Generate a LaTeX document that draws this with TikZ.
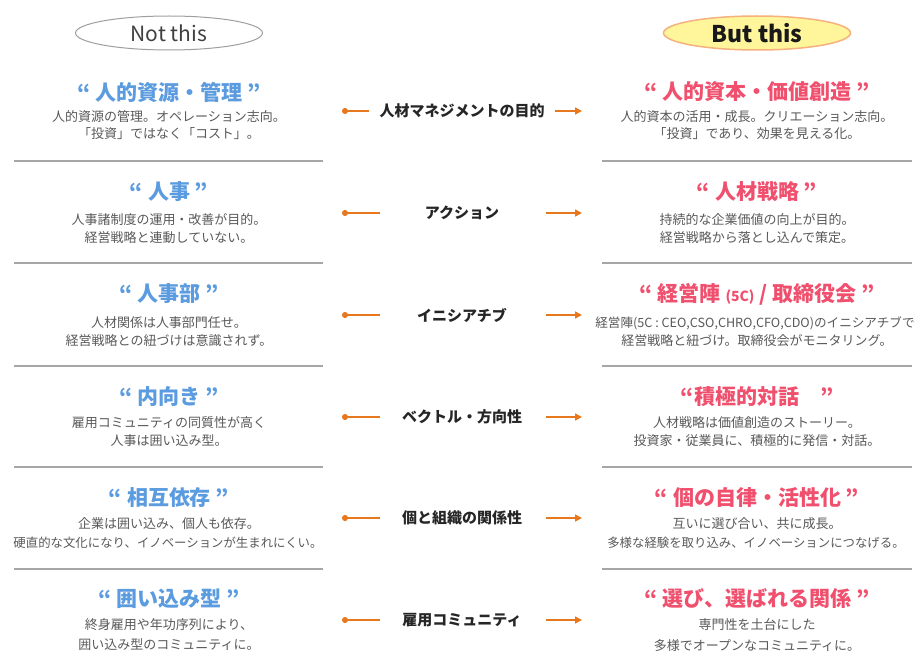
\documentclass[tikz,border=0pt]{standalone}
\usepackage{fontspec}
\setmainfont{Noto Sans CJK JP}
\usetikzlibrary{shapes.geometric,arrows.meta}
\definecolor{ttlblue}{HTML}{5B9BDF}
\definecolor{ttlpink}{HTML}{F0506E}
\definecolor{bodygray}{HTML}{595959}
\definecolor{sepgray}{HTML}{A6A6A6}
\definecolor{arrorange}{HTML}{E8781E}
\definecolor{butfill}{HTML}{FFF59A}
\definecolor{butline}{HTML}{F5B27E}
\begin{document}
\begin{tikzpicture}[x=1pt,y=-1pt,
  lt/.style={font=\fontsize{21}{23}\selectfont\bfseries, text=ttlblue, inner sep=0pt},
  rt/.style={font=\fontsize{21}{23}\selectfont\bfseries, text=ttlpink, inner sep=0pt},
  body/.style={font=\fontsize{13}{15}\selectfont, text=bodygray, inner sep=0pt},
  narrow/.style={font=\fontsize{12.4}{14}\selectfont},
  mid/.style={font=\fontsize{15}{17}\selectfont\bfseries, text=black!85, inner sep=0pt},
  sep/.style={draw=sepgray, line width=1.4pt},
  lconn/.style={draw=arrorange, line width=1.5pt, {Circle[length=6pt]}-},
  rconn/.style={draw=arrorange, line width=1.5pt, -{Triangle[length=7pt,width=7pt]}},
  hdr/.style={ellipse, minimum width=187pt, minimum height=34pt, inner sep=0pt}
]
\useasboundingbox (0,0) rectangle (922,666);
\fill[white] (0,0) rectangle (922,666);

% headers
\node[hdr, draw=gray!75, line width=1pt, text=black!75, font=\fontsize{21}{23}\selectfont] (nothdr) at (169,33) {Not this};
\node[hdr, draw=butline, fill=butfill, line width=1.5pt, text=black!90, font=\fontsize{23}{25}\selectfont\bfseries] (buthdr) at (757,33) {But this};

% separators
\foreach \y [count=\i] in {161,263,366,467,569}{
  \coordinate (lsa\i) at (14,\y); \coordinate (lsb\i) at (323,\y);
  \coordinate (rsa\i) at (602,\y); \coordinate (rsb\i) at (912,\y);
  \draw[sep] (lsa\i) -- (lsb\i);
  \draw[sep] (rsa\i) -- (rsb\i);
}

% left column
\node[lt] (lt1) at (169,92) {“ 人的資源・管理 ”};
\node[body] (lb1a) at (169,117) {人的資源の管理。オペレーション志向。};
\node[body] (lb1b) at (169,134) {「投資」ではなく「コスト」。};

\node[lt] (lt2) at (169,192) {“ 人事 ”};
\node[body] (lb2a) at (169,220) {人事諸制度の運用・改善が目的。};
\node[body] (lb2b) at (169,238) {経営戦略と連動していない。};

\node[lt] (lt3) at (169,294) {“ 人事部 ”};
\node[body] (lb3a) at (169,323) {人材関係は人事部門任せ。};
\node[body] (lb3b) at (169,341) {経営戦略との紐づけは意識されず。};

\node[lt] (lt4) at (169,397) {“ 内向き ”};
\node[body] (lb4a) at (169,423) {雇用コミュニティの同質性が高く};
\node[body] (lb4b) at (169,441) {人事は囲い込み型。};

\node[lt] (lt5) at (169,498) {“ 相互依存 ”};
\node[body] (lb5a) at (169,524) {企業は囲い込み、個人も依存。};
\node[body, narrow] (lb5b) at (168,543) {硬直的な文化になり、イノベーションが生まれにくい。};

\node[lt] (lt6) at (169,599) {“ 囲い込み型 ”};
\node[body] (lb6a) at (169,625) {終身雇用や年功序列により、};
\node[body] (lb6b) at (169,645) {囲い込み型のコミュニティに。};

% right column
\node[rt] (rt1) at (757,92) {“ 人的資本・価値創造 ”};
\node[body] (rb1a) at (757,117) {人的資本の活用・成長。クリエーション志向。};
\node[body] (rb1b) at (757,134) {「投資」であり、効果を見える化。};

\node[rt] (rt2) at (757,192) {“ 人材戦略 ”};
\node[body] (rb2a) at (757,220) {持続的な企業価値の向上が目的。};
\node[body] (rb2b) at (757,238) {経営戦略から落とし込んで策定。};

\node[rt] (rt3) at (757,294) {“ 経営陣 {\fontsize{14}{16}\selectfont (5C)} / 取締役会 ”};
\node[body, font=\fontsize{12.6}{14}\selectfont] (rb3a) at (755,323) {経営陣(5C : CEO,CSO,CHRO,CFO,CDO)のイニシアチブで};
\node[body] (rb3b) at (757,341) {経営戦略と紐づけ。取締役会がモニタリング。};

\node[rt] (rt4) at (757,397) {“積極的対話　”};
\node[body] (rb4a) at (757,423) {人材戦略は価値創造のストーリー。};
\node[body] (rb4b) at (757,441) {投資家・従業員に、積極的に発信・対話。};

\node[rt] (rt5) at (757,498) {“ 個の自律・活性化 ”};
\node[body] (rb5a) at (757,524) {互いに選び合い、共に成長。};
\node[body, narrow] (rb5b) at (756,543) {多様な経験を取り込み、イノベーションにつなげる。};

\node[rt] (rt6) at (757,599) {“ 選び、選ばれる関係 ”};
\node[body] (rb6a) at (757,625) {専門性を土台にした};
\node[body] (rb6b) at (757,646) {多様でオープンなコミュニティに。};

% middle labels and connectors
\node[mid] (m1) at (462,111) {人材マネジメントの目的};
\node[mid] (m2) at (462,213) {アクション};
\node[mid] (m3) at (462,315) {イニシアチブ};
\node[mid] (m4) at (462,417) {ベクトル・方向性};
\node[mid] (m5) at (462,518) {個と組織の関係性};
\node[mid] (m6) at (462,620) {雇用コミュニティ};

\coordinate (ld1) at (342,111); \coordinate (le1) at (369,111);
\coordinate (ra1) at (555,111); \coordinate (rb1) at (582,111);
\draw[lconn] (ld1) -- (le1);
\draw[rconn] (ra1) -- (rb1);
\foreach \y [count=\i from 2] in {213,315,417,518,620}{
  \coordinate (ld\i) at (342,\y); \coordinate (le\i) at (380,\y);
  \coordinate (ra\i) at (546,\y); \coordinate (rb\i) at (582,\y);
  \draw[lconn] (ld\i) -- (le\i);
  \draw[rconn] (ra\i) -- (rb\i);
}
\end{tikzpicture}
\end{document}
